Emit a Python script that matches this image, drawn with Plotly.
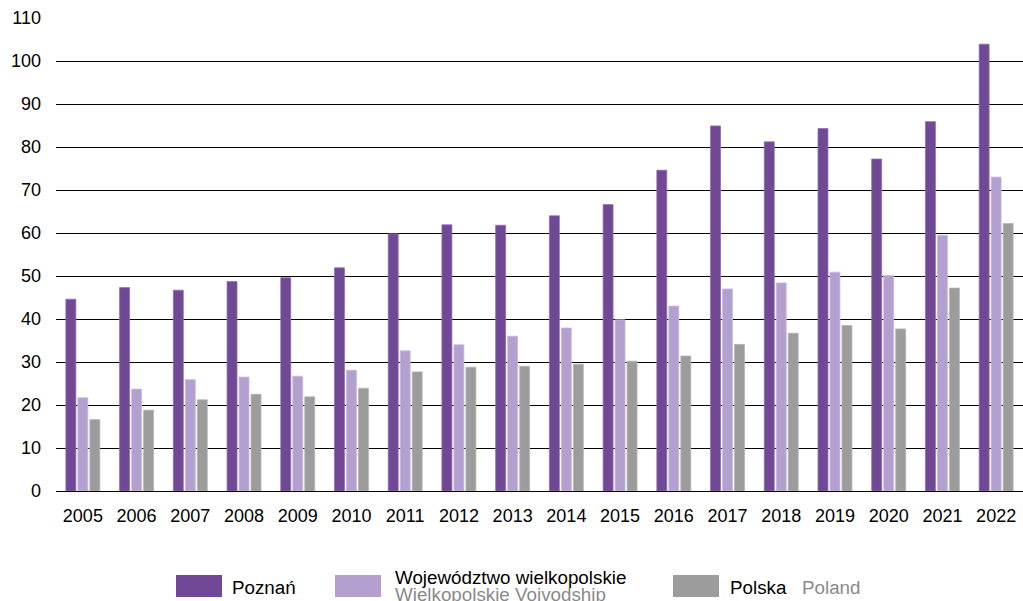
import plotly.graph_objects as go

years = [str(y) for y in range(2005, 2023)]
poznan = [44.6, 47.3, 46.7, 48.7, 49.6, 51.9, 59.8, 61.9, 61.8, 64.0, 66.6, 74.6,
          84.9, 81.2, 84.3, 77.2, 85.9, 103.9]
wielkopolskie = [21.7, 23.7, 25.9, 26.5, 26.7, 28.1, 32.6, 34.0, 36.0, 37.9, 39.8, 43.0,
                 47.0, 48.4, 50.9, 50.1, 59.5, 73.0]
polska = [16.6, 18.8, 21.2, 22.5, 21.9, 23.9, 27.7, 28.8, 29.0, 29.5, 30.2, 31.4,
          34.1, 36.7, 38.5, 37.7, 47.2, 62.2]
y_ticks = list(range(0, 111, 10))

c1, c2, c3 = "#714896", "#b3a0cf", "#9c9c9c"
e1, e2, e3 = "#8e6fae", "#c9bbdd", "#b5b5b5"
gray_txt = "#8a8a8a"
FONT = "Liberation Sans, Arial, sans-serif"

W, H = 1023, 601
ML, MR, MT, MB = 56, 0, 18, 110
pw, ph = W - ML - MR, H - MT - MB


def px(x):
    return (x - ML) / pw


def py(y):
    return (H - MB - y) / ph


fig = go.Figure()
for name, vals, col, edge in [("Poznań", poznan, c1, e1),
                              ("Województwo wielkopolskie", wielkopolskie, c2, e2),
                              ("Polska", polska, c3, e3)]:
    fig.add_trace(go.Bar(x=years, y=vals, name=name,
                         marker=dict(color=col, line=dict(width=0.8, color=edge)),
                         showlegend=False))

shapes = []
annotations = []
for x0, col in [(176, c1), (335, c2), (673, c3)]:
    shapes.append(dict(type="rect", xref="paper", yref="paper", x0=px(x0), x1=px(x0 + 46),
                       y0=py(597), y1=py(575), fillcolor=col, line=dict(width=0)))


def txt(x, y, s, color="#000"):
    annotations.append(dict(xref="paper", yref="paper", x=px(x), y=py(y), text=s, showarrow=False,
                            xanchor="left", yanchor="middle",
                            font=dict(family=FONT, size=18.8, color=color)))


txt(230, 587, "Poznań")
txt(393, 577, "Województwo wielkopolskie")
txt(393, 594, "Wielkopolskie Voivodship", gray_txt)
txt(728, 587, "Polska")
txt(800, 587, "Poland", gray_txt)

fig.update_layout(
    width=W, height=H,
    margin=dict(l=ML, r=MR, t=MT, b=MB),
    paper_bgcolor="white", plot_bgcolor="white",
    barmode="group", bargap=0.33, bargroupgap=0.17,
    font=dict(family=FONT, size=18, color="#000"),
    shapes=shapes, annotations=annotations,
    xaxis=dict(type="category", showgrid=False, showline=False, ticks="",
               ticklabelstandoff=12, tickfont=dict(size=18)),
    yaxis=dict(range=[0, 110], tickvals=y_ticks, showgrid=True, gridcolor="#000", gridwidth=1,
               zeroline=True, zerolinecolor="#000", zerolinewidth=1, showline=False, ticks="",
               ticklabelstandoff=14, tickfont=dict(size=18)),
)

fig.write_html("out.html", config={"displayModeBar": False},
               post_script="document.body.style.margin='0';document.body.style.overflow='hidden';")
